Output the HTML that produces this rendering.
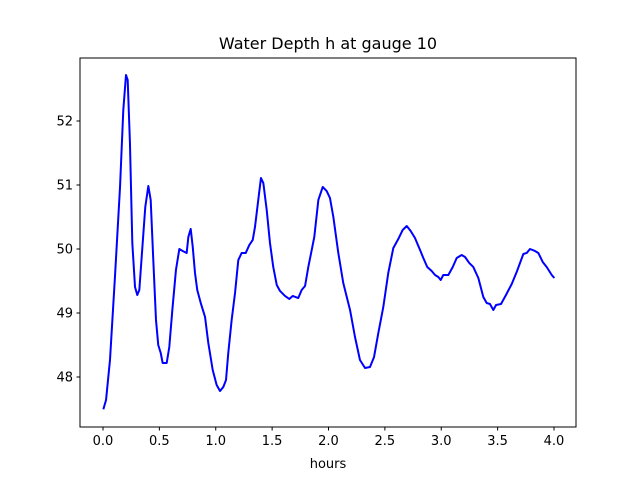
<!DOCTYPE html>
<html><head><meta charset="utf-8"><style>
body{margin:0;background:#fff;}
svg{display:block;font-family:"DejaVu Sans","Liberation Sans",sans-serif;}
</style></head><body>
<svg id="chart" width="640" height="480" xmlns="http://www.w3.org/2000/svg">
<rect width="640" height="480" fill="#fff"/>
<text x="328" y="49" font-size="16" text-anchor="middle">Water Depth h at gauge 10</text>
<text x="328" y="468" font-size="13" text-anchor="middle">hours</text>
<g id="ticks"></g>
<path id="series" fill="none" stroke="#0000ff" stroke-width="2" stroke-linejoin="round"/>
<rect x="80" y="58" width="496" height="369" fill="none" stroke="#000" stroke-width="1"/>
</svg>
<script>
const times=[0.003,0.027,0.062,0.106,0.151,0.180,0.204,0.219,0.239,0.260,0.284,0.304,0.322,0.352,0.375,0.402,0.423,0.446,0.470,0.490,0.512,0.529,0.565,0.588,0.615,0.647,0.677,0.707,0.742,0.757,0.778,0.796,0.816,0.836,0.867,0.905,0.934,0.973,1.008,1.038,1.067,1.091,1.111,1.141,1.171,1.200,1.230,1.266,1.298,1.328,1.348,1.377,1.401,1.422,1.452,1.481,1.510,1.541,1.570,1.614,1.652,1.682,1.732,1.762,1.792,1.821,1.851,1.874,1.910,1.949,1.984,2.013,2.043,2.087,2.131,2.191,2.235,2.279,2.324,2.368,2.404,2.442,2.486,2.530,2.575,2.619,2.658,2.694,2.729,2.767,2.812,2.841,2.876,2.915,2.945,2.974,2.995,3.018,3.063,3.102,3.137,3.181,3.211,3.249,3.284,3.329,3.373,3.403,3.432,3.462,3.486,3.530,3.574,3.625,3.669,3.728,3.758,3.787,3.831,3.861,3.900,3.935,3.980,4.003];
const depths=[47.495,47.641,48.266,49.563,50.969,52.172,52.719,52.641,51.656,50.094,49.406,49.281,49.359,50.094,50.656,50.984,50.766,49.828,48.891,48.5,48.375,48.219,48.219,48.469,49.047,49.672,50.0,49.969,49.938,50.188,50.313,50.031,49.625,49.359,49.156,48.938,48.531,48.109,47.875,47.781,47.844,47.953,48.375,48.891,49.313,49.828,49.938,49.938,50.063,50.141,50.344,50.766,51.109,51.031,50.609,50.094,49.719,49.438,49.344,49.266,49.219,49.266,49.234,49.359,49.422,49.719,49.984,50.188,50.766,50.969,50.906,50.797,50.5,49.938,49.469,49.047,48.625,48.266,48.141,48.156,48.313,48.688,49.094,49.625,50.016,50.156,50.297,50.359,50.281,50.172,49.984,49.859,49.719,49.656,49.594,49.563,49.516,49.594,49.594,49.719,49.859,49.906,49.875,49.781,49.719,49.547,49.25,49.156,49.141,49.047,49.125,49.141,49.281,49.453,49.641,49.922,49.938,50.0,49.969,49.938,49.797,49.719,49.594,49.547];
const xTicks=[0,0.5,1,1.5,2,2.5,3,3.5,4];
const xTickLabels=["0.0","0.5","1.0","1.5","2.0","2.5","3.0","3.5","4.0"];
const yTicks=[48,49,50,51,52];
const yTickLabels=["48","49","50","51","52"];
const X=v=>103+v*112.75;
const Y=v=>121+(52-v)*64;
const NS="http://www.w3.org/2000/svg";
const g=document.getElementById('ticks');
function mk(tag,attrs){const e=document.createElementNS(NS,tag);for(const k in attrs)e.setAttribute(k,attrs[k]);g.appendChild(e);return e;}
xTicks.forEach((v,i)=>{
  const l=mk('line',{x1:X(v),x2:X(v),y1:427,y2:430.5,stroke:'#000','stroke-width':1});
  
  
  const t=mk('text',{x:X(v),y:445,'font-size':13,'text-anchor':'middle'});
  t.textContent=xTickLabels[i];
  
  
});
yTicks.forEach((v,i)=>{
  const l=mk('line',{x1:76.5,x2:80,y1:Y(v),y2:Y(v),stroke:'#000','stroke-width':1});
  
  
  const t=mk('text',{x:73,y:Y(v)+4.5,'font-size':13,'text-anchor':'end'});
  t.textContent=yTickLabels[i];
  
  
});
document.getElementById('series').setAttribute('d',times.map((t,i)=>(i?'L':'M')+X(t).toFixed(2)+' '+Y(depths[i]).toFixed(2)).join(' '));
</script>
</body></html>
